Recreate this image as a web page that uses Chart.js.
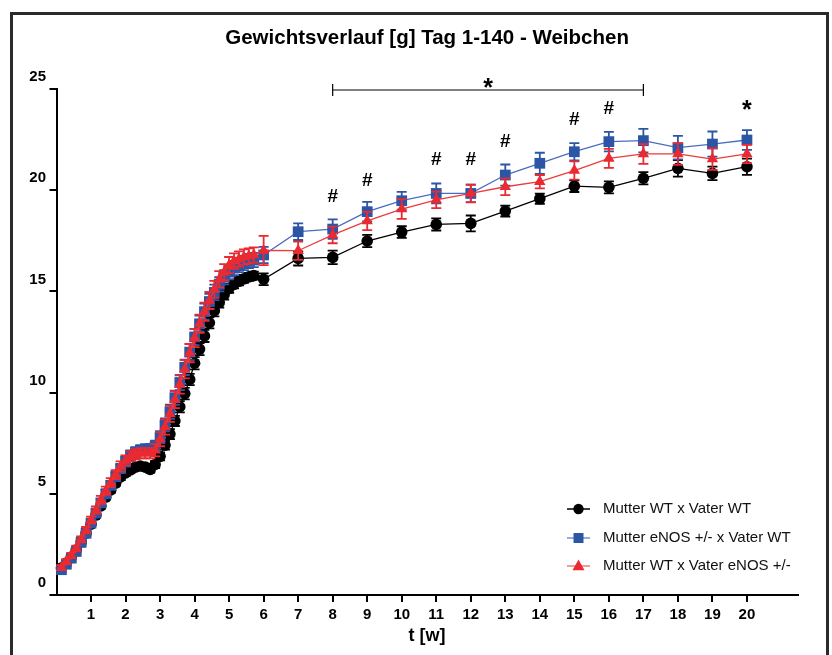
<!DOCTYPE html>
<html>
<head>
<meta charset="utf-8">
<script src="https://cdn.jsdelivr.net/npm/chart.js@4.4.1/dist/chart.umd.min.js"></script>
<style>
  html, body { margin: 0; padding: 0; background: #fff; }
  canvas { display: block; }
</style>
</head>
<body>
<canvas id="weightChart" width="832" height="655"></canvas>
<script>
// Gewichtsverlauf Weibchen, Tag 1-140 (x in Wochen)

const FONT = '"Liberation Sans", Arial, sans-serif';

const days = [1, 2, 3, 4, 5, 6, 7, 8, 9, 10, 11, 12, 13, 14, 15, 16, 17, 18, 19, 20,
    21, 22, 23, 24, 25, 26, 27, 28, 29, 30, 31, 32, 33, 34, 35, 36, 37, 38, 39, 40,
    42, 49, 56, 63, 70, 77, 84, 91, 98, 105, 112, 119, 126, 133, 140];

const seriesNames = ['Mutter WT x Vater WT', 'Mutter eNOS +/- x Vater WT', 'Mutter WT x Vater eNOS +/-'];

const wtValues = [1.33, 1.58, 1.88, 2.22, 2.62, 3.06, 3.5, 3.95, 4.4, 4.84,
    5.19, 5.53, 5.83, 6.03, 6.18, 6.32, 6.37, 6.32, 6.2, 6.45,
    6.85, 7.4, 7.95, 8.6, 9.3, 9.95, 10.65, 11.45, 12.15, 12.8,
    13.45, 14.05, 14.45, 14.85, 15.15, 15.35, 15.5, 15.62, 15.72, 15.78,
    15.6, 16.63, 16.68, 17.49, 17.93, 18.31, 18.36, 18.97, 19.58, 20.2, 20.14, 20.59, 21.08, 20.83, 21.16];
const wtSem = [0.1, 0.1, 0.1, 0.1, 0.1, 0.12, 0.12, 0.12, 0.13, 0.13,
    0.14, 0.14, 0.15, 0.15, 0.15, 0.15, 0.15, 0.15, 0.15, 0.18,
    0.2, 0.22, 0.25, 0.25, 0.28, 0.28, 0.28, 0.3, 0.3, 0.3,
    0.28, 0.28, 0.25, 0.25, 0.22, 0.2, 0.2, 0.2, 0.2, 0.2,
    0.29, 0.35, 0.33, 0.3, 0.29, 0.3, 0.39, 0.27, 0.25, 0.29, 0.3, 0.3, 0.41, 0.33, 0.4];

const motherValues = [1.25, 1.52, 1.82, 2.15, 2.6, 3.05, 3.55, 4.05, 4.55, 5.0,
    5.42, 5.85, 6.25, 6.6, 6.9, 7.05, 7.15, 7.2, 7.2, 7.35,
    7.8, 8.4, 9.05, 9.75, 10.5, 11.25, 12.0, 12.75, 13.4, 14.0,
    14.5, 14.95, 15.35, 15.7, 15.95, 16.15, 16.3, 16.4, 16.5, 16.55,
    16.8, 17.95, 18.08, 18.94, 19.48, 19.84, 19.84, 20.75, 21.33, 21.9, 22.4, 22.45, 22.1, 22.28, 22.48];
const motherSem = [0.12, 0.12, 0.12, 0.13, 0.14, 0.15, 0.16, 0.17, 0.18, 0.2,
    0.2, 0.22, 0.22, 0.25, 0.25, 0.25, 0.25, 0.25, 0.25, 0.28,
    0.3, 0.32, 0.35, 0.35, 0.38, 0.38, 0.4, 0.4, 0.4, 0.4,
    0.38, 0.38, 0.35, 0.35, 0.35, 0.35, 0.35, 0.35, 0.35, 0.35,
    0.4, 0.41, 0.48, 0.48, 0.44, 0.49, 0.43, 0.52, 0.52, 0.43, 0.48, 0.58, 0.58, 0.62, 0.49];

const fatherValues = [1.35, 1.65, 1.95, 2.3, 2.75, 3.2, 3.7, 4.2, 4.7, 5.15,
    5.55, 5.95, 6.35, 6.65, 6.85, 6.95, 7.0, 7.0, 7.0, 7.15,
    7.7, 8.3, 8.95, 9.65, 10.4, 11.15, 11.95, 12.7, 13.4, 14.0,
    14.55, 15.1, 15.6, 15.95, 16.3, 16.5, 16.6, 16.7, 16.75, 16.8,
    17.02, 17.01, 17.79, 18.48, 19.07, 19.52, 19.84, 20.17, 20.42, 20.97, 21.57, 21.79, 21.79, 21.54, 21.79];
const fatherSem = [0.12, 0.12, 0.13, 0.14, 0.15, 0.16, 0.17, 0.18, 0.2, 0.2,
    0.22, 0.22, 0.25, 0.25, 0.25, 0.25, 0.25, 0.25, 0.25, 0.3,
    0.35, 0.38, 0.4, 0.42, 0.45, 0.45, 0.45, 0.45, 0.45, 0.45,
    0.42, 0.42, 0.4, 0.4, 0.4, 0.38, 0.38, 0.38, 0.38, 0.38,
    0.72, 0.45, 0.41, 0.45, 0.49, 0.41, 0.44, 0.41, 0.33, 0.45, 0.47, 0.49, 0.54, 0.54, 0.45];

const xTicks = [1, 2, 3, 4, 5, 6, 7, 8, 9, 10, 11, 12, 13, 14, 15, 16, 17, 18, 19, 20];
const yTicks = [0, 5, 10, 15, 20, 25];

// significance marks: week, weight (g)
const hashWeeks = [8, 9, 11, 12, 13, 15, 16];
const hashLevels = [19.76, 20.54, 21.6, 21.6, 22.48, 23.55, 24.13];
const starWeek = 20, starLevel = 24.3;
const bracketFrom = 8, bracketTo = 17, bracketLevel = 24.95;

const seriesColors = ['#000000', '#2d55a6', '#ea2a30'];
const lineColors = ['#000000', '#4a6cc0', '#ee3a3a'];
const legendLineColors = ['#000000', '#7390d4', '#f27a7a'];

function toPoints(values) {
    return values.map((v, i) => ({ x: days[i] / 7, y: v }));
}

function drawMarker(ctx, style, x, y, color) {
    ctx.fillStyle = color;
    ctx.beginPath();
    if (style === 'circle') {
        ctx.arc(x, y, 5.2, 0, Math.PI * 2);
    } else if (style === 'rect') {
        ctx.rect(x - 5, y - 5, 10, 10);
    } else {
        ctx.moveTo(x, y - 6.5);
        ctx.lineTo(x + 6, y + 4.2);
        ctx.lineTo(x - 6, y + 4.2);
        ctx.closePath();
    }
    ctx.fill();
}

const decorations = {
    id: 'decorations',
    beforeDraw(chart) {
        const ctx = chart.ctx;
        ctx.save();
        ctx.strokeStyle = '#2a2a2a';
        ctx.lineWidth = 3;
        ctx.strokeRect(11.5, 13.5, 816, 700);
        ctx.restore();
    },
    beforeDatasetDraw(chart, args) {
        const ctx = chart.ctx;
        const ds = chart.data.datasets[args.index];
        const y = chart.scales.y;
        ctx.save();
        ctx.strokeStyle = ds.backgroundColor;
        ctx.lineWidth = 1.8;
        args.meta.data.forEach((pt, i) => {
            const v = ds.data[i].y;
            const top = y.getPixelForValue(v + ds.sem[i]);
            const bot = y.getPixelForValue(v - ds.sem[i]);
            ctx.beginPath();
            ctx.moveTo(pt.x, top);
            ctx.lineTo(pt.x, bot);
            ctx.moveTo(pt.x - 5, top);
            ctx.lineTo(pt.x + 5, top);
            ctx.moveTo(pt.x - 5, bot);
            ctx.lineTo(pt.x + 5, bot);
            ctx.stroke();
        });
        ctx.restore();
    },
    afterDraw(chart) {
        const ctx = chart.ctx;
        const area = chart.chartArea;
        const xs = chart.scales.x, ys = chart.scales.y;
        const cx = (area.left + area.right) / 2;
        ctx.save();
        ctx.fillStyle = '#000';
        ctx.textAlign = 'center';
        ctx.textBaseline = 'middle';

        ctx.font = 'bold 20.5px ' + FONT;
        ctx.fillText('Gewichtsverlauf [g] Tag 1-140 - Weibchen', cx, 38);

        ctx.font = 'bold 18px ' + FONT;
        ctx.fillText('t [w]', cx, 636);

        // significance marks
        ctx.textBaseline = 'alphabetic';
        ctx.font = 'bold 19px ' + FONT;
        hashWeeks.forEach((w, i) => {
            ctx.fillText('#', xs.getPixelForValue(w), ys.getPixelForValue(hashLevels[i]) + 7);
        });
        ctx.font = 'bold 25px ' + FONT;
        ctx.fillText('*', xs.getPixelForValue(starWeek), ys.getPixelForValue(starLevel) + 15);

        const bx1 = xs.getPixelForValue(bracketFrom);
        const bx2 = xs.getPixelForValue(bracketTo);
        const by = ys.getPixelForValue(bracketLevel);
        ctx.strokeStyle = '#000';
        ctx.lineWidth = 1.2;
        ctx.beginPath();
        ctx.moveTo(bx1, by);
        ctx.lineTo(bx2, by);
        ctx.moveTo(bx1, by - 6);
        ctx.lineTo(bx1, by + 6);
        ctx.moveTo(bx2, by - 6);
        ctx.lineTo(bx2, by + 6);
        ctx.stroke();
        ctx.fillText('*', (bx1 + bx2) / 2, by + 6);

        // legend
        const rows = [509, 538, 566];
        const styles = ['circle', 'rect', 'triangle'];
        ctx.textAlign = 'left';
        ctx.textBaseline = 'middle';
        ctx.font = '15px ' + FONT;
        rows.forEach((ry, i) => {
            ctx.strokeStyle = legendLineColors[i];
            ctx.lineWidth = 1.5;
            ctx.beginPath();
            ctx.moveTo(567, ry);
            ctx.lineTo(590, ry);
            ctx.stroke();
            drawMarker(ctx, styles[i], 578.5, ry, seriesColors[i]);
            ctx.fillStyle = '#111';
            ctx.fillText(seriesNames[i], 603, ry);
        });
        ctx.restore();
    }
};

function makeDataset(i, values, sem, style, radius, order) {
    return {
        label: seriesNames[i],
        data: toPoints(values),
        sem: sem,
        borderColor: lineColors[i],
        backgroundColor: seriesColors[i],
        pointBackgroundColor: seriesColors[i],
        pointBorderColor: seriesColors[i],
        pointBorderWidth: 0,
        pointStyle: style,
        pointRadius: radius,
        borderWidth: 1.3,
        tension: 0,
        clip: false,
        order: order
    };
}

const ctx = document.getElementById('weightChart').getContext('2d');

new Chart(ctx, {
    type: 'line',
    data: {
        datasets: [
            makeDataset(0, wtValues, wtSem, 'circle', 5.8, 3),
            makeDataset(1, motherValues, motherSem, 'rect', 7.6, 2),
            makeDataset(2, fatherValues, fatherSem, 'triangle', 6.6, 1)
        ]
    },
    options: {
        responsive: false,
        animation: false,
        devicePixelRatio: 1,
        layout: {
            padding: { top: 89, right: 34.3, left: 0, bottom: 0 }
        },
        plugins: {
            legend: { display: false },
            title: { display: false },
            tooltip: { enabled: false }
        },
        scales: {
            x: {
                type: 'linear',
                min: 0,
                max: 21.47,
                afterBuildTicks: scale => { scale.ticks = xTicks.map(v => ({ value: v })); },
                afterFit: scale => { scale.height = 60; },
                grid: {
                    drawOnChartArea: false,
                    drawTicks: true,
                    tickLength: 7,
                    color: '#000',
                    lineWidth: 2
                },
                border: { color: '#000', width: 2 },
                ticks: {
                    autoSkip: false,
                    maxRotation: 0,
                    padding: 4,
                    color: '#000',
                    font: { family: FONT, size: 15, weight: 'bold' }
                }
            },
            y: {
                min: 0,
                max: 25,
                afterBuildTicks: scale => { scale.ticks = yTicks.map(v => ({ value: v })); },
                afterFit: scale => { scale.width = 56.5; },
                grid: {
                    drawOnChartArea: false,
                    drawTicks: true,
                    tickLength: 7,
                    color: '#000',
                    lineWidth: 2
                },
                border: { color: '#000', width: 2 },
                ticks: {
                    labelOffset: -12,
                    padding: 3.5,
                    color: '#000',
                    font: { family: FONT, size: 15, weight: 'bold' }
                }
            }
        }
    },
    plugins: [decorations]
});
</script>
</body>
</html>
